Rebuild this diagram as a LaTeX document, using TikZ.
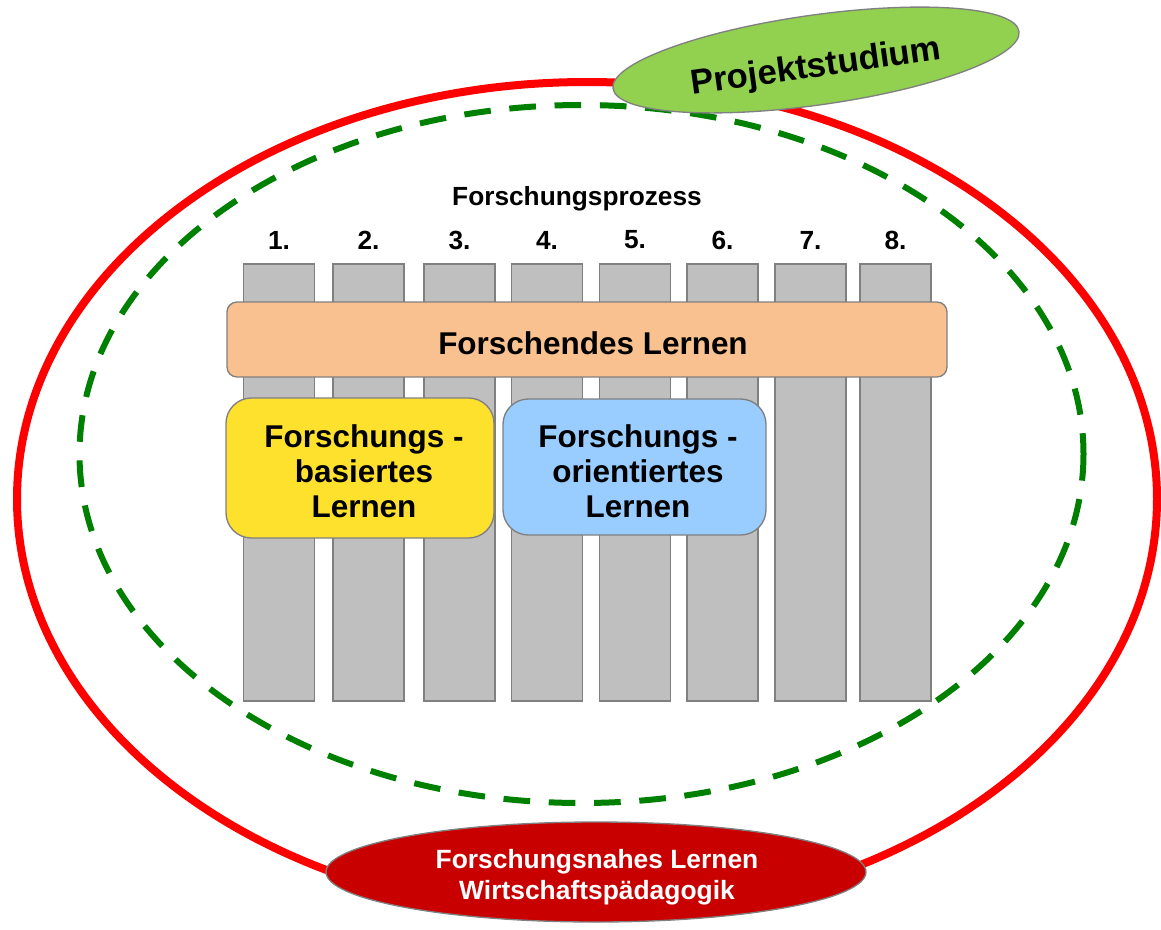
\documentclass[tikz,border=0pt]{standalone}
\usepackage{fontspec}
\setmainfont{Liberation Sans}
\usetikzlibrary{shapes.geometric}
\definecolor{barfill}{HTML}{BFBFBF}
\definecolor{barline}{HTML}{808080}
\definecolor{orangefill}{HTML}{F8C18F}
\definecolor{yellowfill}{HTML}{FDE12D}
\definecolor{bluefill}{HTML}{99CCFF}
\definecolor{projgreen}{HTML}{92D050}
\definecolor{darkred}{HTML}{C90000}
\definecolor{dashgreen}{HTML}{008000}
\tikzset{
  bar/.style={draw=barline, fill=barfill, line width=1pt, minimum width=53.4pt, minimum height=327.75pt, inner sep=0pt},
  numlabel/.style={font=\fontsize{19.7}{23}\selectfont\bfseries, inner sep=0pt},
  roundbox/.style={draw=barline, line width=1pt, inner sep=0pt},
  boxtext/.style={align=center, inner sep=0pt, font=\fontsize{23.6}{26.3}\selectfont\bfseries},
  oval/.style={ellipse, draw=barline, line width=1pt, inner sep=0pt}
}
\begin{document}
\begin{tikzpicture}[x=0.75pt, y=-0.75pt]
\useasboundingbox (0,0) rectangle (1161,929);
% outer red ellipse
\draw[red, line width=6pt] (587,499) ellipse [x radius=570, y radius=417];
% green dashed ellipse
\draw[dashgreen, line width=4.5pt, dash pattern=on 20pt off 14pt] (581.5,454) ellipse [x radius=502, y radius=349];
% title and numbers
\node[numlabel] (title) at (577,198.5) {Forschungsprozess};
\foreach \i/\x in {1/279, 2/368.5, 3/459.5, 4/547, 5/635, 6/722.5, 7/810.5, 8/895.5}{
  \node[numlabel] (n\i) at (\x,240) {\i.};
  \node[bar] (b\i) at (\x,482.5) {};
}
% boxes
\node[roundbox, fill=orangefill, rounded corners=7.5pt, minimum width=540pt, minimum height=56.25pt] (fl) at (587,339.5) {};
\node[boxtext] (flt) at (593,343) {Forschendes Lernen};
\node[roundbox, fill=yellowfill, rounded corners=19pt, minimum width=201pt, minimum height=105pt] (fbl) at (360,468) {};
\node[boxtext] (fblt) at (364,471.5) {Forschungs -\\basiertes\\Lernen};
\node[roundbox, fill=bluefill, rounded corners=19pt, minimum width=197.25pt, minimum height=102pt] (fol) at (634.5,467) {};
\node[boxtext] (folt) at (638,471.5) {Forschungs -\\orientiertes\\Lernen};
% Projektstudium
\node[oval, fill=projgreen, minimum width=307.5pt, minimum height=67.5pt, rotate=8] (proj) at (816,60) {};
\node[inner sep=0pt, rotate=8, font=\fontsize{26}{30}\selectfont\bfseries] (projt) at (816,68) {Projektstudium};
% bottom ellipse
\node[oval, fill=darkred, minimum width=405pt, minimum height=75pt] (fnl) at (596,872) {};
\node[align=center, inner sep=0pt, text=white, font=\fontsize{19.8}{23.5}\selectfont\bfseries] (fnlt) at (597,877.5) {Forschungsnahes Lernen\\Wirtschaftspädagogik};
\end{tikzpicture}
\end{document}
